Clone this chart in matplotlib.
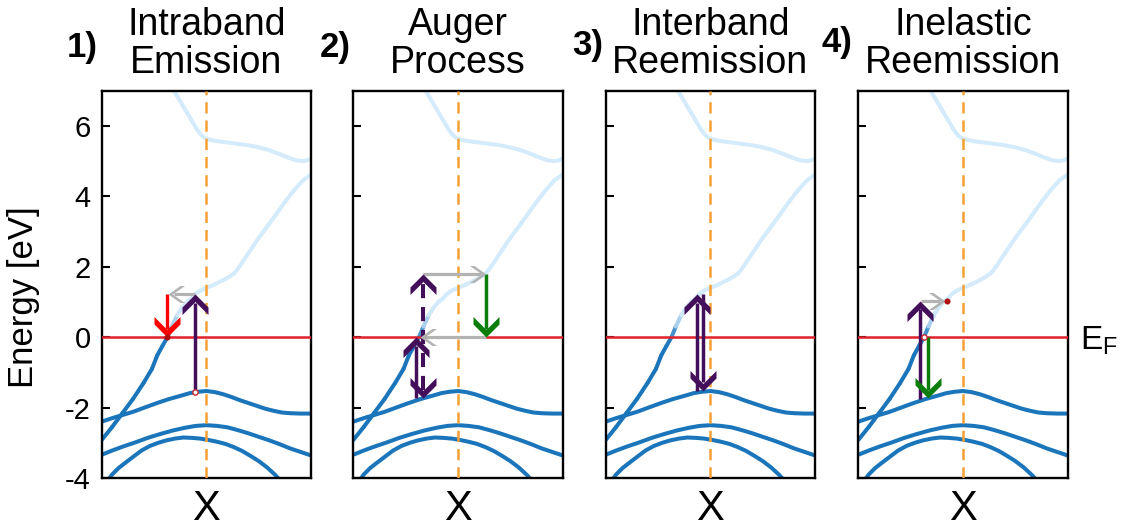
import numpy as np
import matplotlib
matplotlib.use('Agg')
import matplotlib.pyplot as plt
from matplotlib.collections import LineCollection
from matplotlib.path import Path
from matplotlib.markers import MarkerStyle
from matplotlib.transforms import Affine2D, blended_transform_factory
from matplotlib.colors import to_rgb

plt.rcParams['font.family'] = ['Liberation Sans', 'DejaVu Sans']
plt.rcParams['axes.unicode_minus'] = False

# band structure around X (k runs 0..1, X at 0.5), energies in eV relative to E_F
band_a_k = [0.34, 0.37, 0.40, 0.43, 0.455, 0.475, 0.495, 0.52, 0.56, 0.60, 0.65, 0.70,
            0.75, 0.80, 0.85, 0.89, 0.93, 0.96, 0.98, 1.0]
band_a_e = [7.05, 6.75, 6.45, 6.15, 5.90, 5.74, 5.65, 5.60, 5.56, 5.53, 5.49, 5.45,
            5.39, 5.31, 5.20, 5.10, 5.02, 5.00, 5.02, 5.07]

band_b_k = [0.0, 0.05, 0.10, 0.15, 0.20, 0.24, 0.265, 0.29, 0.314, 0.335, 0.36, 0.385,
            0.41, 0.425, 0.446, 0.47, 0.50, 0.54, 0.58, 0.61, 0.634, 0.66, 0.70, 0.75,
            0.80, 0.84, 0.88, 0.92, 0.96, 1.0]
band_b_e = [-2.92, -2.55, -2.15, -1.75, -1.30, -0.90, -0.52, -0.25, 0.0, 0.30, 0.62, 0.85,
            1.02, 1.08, 1.22, 1.32, 1.40, 1.50, 1.62, 1.72, 1.82, 2.02, 2.38, 2.82,
            3.22, 3.55, 3.88, 4.18, 4.45, 4.62]

band_c_k = [0.0, 0.05, 0.10, 0.15, 0.20, 0.26, 0.32, 0.38, 0.42, 0.46, 0.50, 0.54, 0.58,
            0.62, 0.66, 0.70, 0.74, 0.78, 0.82, 0.86, 0.90, 0.95, 1.0]
band_c_e = [-2.40, -2.30, -2.21, -2.12, -2.01, -1.88, -1.76, -1.66, -1.59, -1.55, -1.53,
            -1.56, -1.62, -1.70, -1.79, -1.87, -1.95, -2.03, -2.09, -2.14, -2.16, -2.17, -2.17]

band_d_k = [0.0, 0.05, 0.10, 0.16, 0.22, 0.28, 0.34, 0.40, 0.45, 0.50, 0.55, 0.60, 0.65,
            0.70, 0.75, 0.80, 0.85, 0.90, 0.95, 1.0]
band_d_e = [-3.34, -3.22, -3.11, -2.99, -2.86, -2.75, -2.65, -2.57, -2.52, -2.50, -2.52,
            -2.56, -2.64, -2.73, -2.83, -2.93, -3.04, -3.16, -3.26, -3.36]

band_e_k = [0.02, 0.05, 0.08, 0.11, 0.15, 0.19, 0.23, 0.27, 0.31, 0.35, 0.39, 0.43, 0.47,
            0.51, 0.55, 0.59, 0.63, 0.67, 0.71, 0.75, 0.79, 0.83, 0.86]
band_e_e = [-4.15, -3.90, -3.72, -3.58, -3.40, -3.22, -3.09, -3.00, -2.93, -2.88, -2.85,
            -2.86, -2.88, -2.92, -2.97, -3.03, -3.12, -3.23, -3.37, -3.52, -3.70, -3.92, -4.12]

numbers = ['1)', '2)', '3)', '4)']
titles = ['Intraband\nEmission', 'Auger\nProcess', 'Interband\nReemission', 'Inelastic\nReemission']

# arrows per panel: (kind, k0, e0, k1, e1)
arrows = [
    [('red', 0.314, 1.22, 0.314, 0.0),
     ('gray', 0.446, 1.24, 0.318, 1.24),
     ('purple', 0.446, -1.55, 0.446, 1.22)],
    [('gray', 0.334, 1.80, 0.634, 1.80),
     ('green', 0.634, 1.80, 0.634, 0.0),
     ('gray', 0.634, 0.0, 0.318, 0.0),
     ('purple', 0.298, -1.74, 0.298, 0.0),
     ('purple_dashed', 0.332, -1.74, 0.332, 1.80)],
    [('purple', 0.437, -1.52, 0.437, 1.22),
     ('purple', 0.466, 1.22, 0.466, -1.52)],
    [('purple', 0.295, -1.76, 0.295, 1.04),
     ('gray', 0.300, 1.04, 0.415, 1.04),
     ('green', 0.334, 0.0, 0.334, -1.74)],
]
electrons = [[(0.314, 0.0)], [], [], [(0.425, 1.04)]]
holes = [[(0.446, -1.55)], [], [], [(0.315, 0.0)]]

dark_blue = '#1b75bb'
light_blue = '#d4ebfb'
arrow_styles = {
    'red': dict(color='#ff0000', lw=2.4, head='big'),
    'gray': dict(color='#b3b3b3', lw=2.3, head='small'),
    'purple': dict(color='#440f5a', lw=2.5, head='big'),
    'purple_dashed': dict(color='#440f5a', lw=2.9, head='big', dashed=True, both=True),
    'green': dict(color='#0a7d0a', lw=2.5, head='big'),
}
# chevron heads in pixels: half width, outer length, arm thickness
heads = {'big': (13.0, 13.0, 7.5), 'small': (8.5, 12.0, 4.5)}

W, H, DPI = 1121, 532, 100
fig = plt.figure(figsize=(W / DPI, H / DPI), dpi=DPI)
ax_left_px = [101.7, 353.3, 605.7, 858.3]
ax_w, ax_top, ax_bot = 209.4, 90.7, 478.0
number_x = [67, 320, 572, 822]
number_base = [57, 57, 55, 52]


def chevron_marker(name, angle):
    w, l, t = heads[name]
    verts = [(0, 0), (w, -l), (w, -l - t), (0, -t), (-w, -l - t), (-w, -l), (0, 0)]
    codes = [Path.MOVETO] + [Path.LINETO] * 5 + [Path.CLOSEPOLY]
    path = Path(verts, codes)
    size = 2 * max(w, l + t) * 72 / DPI
    return MarkerStyle(path, transform=Affine2D().rotate_deg(angle)), size


def draw_arrow(ax, kind, k0, e0, k1, e1):
    st = arrow_styles[kind]
    w, l, t = heads[st['head']]
    p0 = ax.transData.transform((k0, e0))
    p1 = ax.transData.transform((k1, e1))
    d = (p1 - p0) / np.hypot(*(p1 - p0))
    inv = ax.transData.inverted()
    end = inv.transform(p1 - d * (t + 1))
    start = inv.transform(p0 + d * (t + 1)) if st.get('both') else (k0, e0)
    ls = (0, (3.5, 2.2)) if st.get('dashed') else '-'
    ax.plot([start[0], end[0]], [start[1], end[1]], color=st['color'], lw=st['lw'],
            ls=ls, solid_capstyle='butt', dash_capstyle='butt', zorder=5)
    ang = np.degrees(np.arctan2(d[1], d[0])) - 90
    m, ms = chevron_marker(st['head'], ang)
    ax.plot([k1], [e1], ls='none', marker=m, ms=ms, mew=0, color=st['color'], zorder=6)
    if st.get('both'):
        m, ms = chevron_marker(st['head'], ang + 180)
        ax.plot([k0], [e0], ls='none', marker=m, ms=ms, mew=0, color=st['color'], zorder=6)


def occupation_color(e):
    f = 1.0 / (1.0 + np.exp((e - 0.3) / 0.13))
    return f * np.array(to_rgb(dark_blue)) + (1 - f) * np.array(to_rgb(light_blue))


for i, lp in enumerate(ax_left_px):
    ax = fig.add_axes([lp / W, 1 - ax_bot / H, ax_w / W, (ax_bot - ax_top) / H])
    ax.set_xlim(0, 1)
    ax.set_ylim(-4, 7)

    ax.plot(band_a_k, band_a_e, color=light_blue, lw=2.9, zorder=2)
    for bk, be in [(band_c_k, band_c_e), (band_d_k, band_d_e), (band_e_k, band_e_e)]:
        ax.plot(bk, be, color=dark_blue, lw=2.9, zorder=2)
    # partially occupied band, shaded by occupation
    pts = np.column_stack([band_b_k, band_b_e])
    segs = np.stack([pts[:-1], pts[1:]], axis=1)
    cols = [occupation_color(0.5 * (a[1] + b[1])) for a, b in segs]
    ax.add_collection(LineCollection(segs, colors=cols, linewidths=2.9,
                                     capstyle='round', zorder=2.1))

    ax.axvline(0.5, color='#f4a034', lw=1.8, dashes=(4.5, 2.8), zorder=3)
    ax.axhline(0, color='#e0202a', lw=1.8, zorder=3.5)

    for kind, k0, e0, k1, e1 in arrows[i]:
        draw_arrow(ax, kind, k0, e0, k1, e1)
    for k, e in electrons[i]:
        ax.plot(k, e, 'o', color='#b00f0f', ms=4.4, mew=0, zorder=7)
    for k, e in holes[i]:
        ax.plot(k, e, 'o', mfc='white', mec='#c8282d', ms=3.8, mew=1.0, zorder=7)

    ax.set_yticks(range(-4, 7, 2))
    ax.set_xticks([0.5])
    ax.set_xticklabels(['X'], fontsize=30)
    ax.tick_params(axis='x', length=0, pad=8)
    ax.tick_params(axis='y', direction='in', length=5.5, width=1.5, labelsize=21, pad=8,
                   labelleft=(i == 0))
    for sp in ax.spines.values():
        sp.set_linewidth(1.7)

    cx = (lp + ax_w / 2) / W
    fig.text(cx, 1 - 7 / H, titles[i], ha='center', va='top', fontsize=27,
             linespacing=1.08)
    fig.text(number_x[i] / W, 1 - number_base[i] / H, numbers[i], ha='left', va='baseline',
             fontsize=25, fontweight='bold')

    if i == 3:
        tr = blended_transform_factory(ax.transAxes, ax.transData)
        ax.text(1.06, -0.34, r'$\mathregular{E_F}$', transform=tr, fontsize=24,
                ha='left', va='baseline')

fig.text(24 / W, 1 - 297 / H, 'Energy [eV]', rotation=90, ha='center', va='center', fontsize=25)

fig.savefig('out.png', dpi=DPI)
